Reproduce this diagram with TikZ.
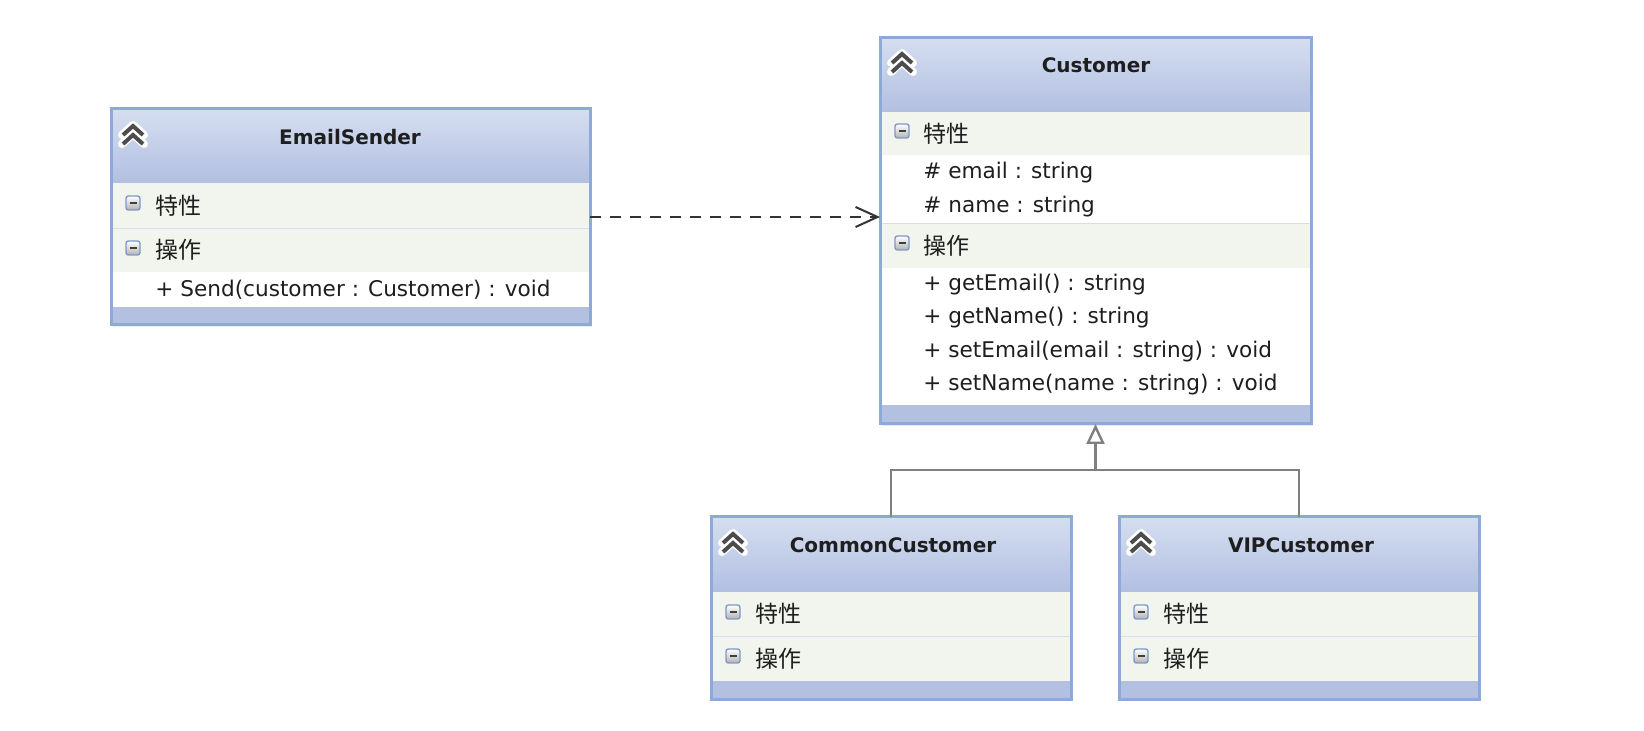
\documentclass[tikz,border=0pt]{standalone}
\usepackage{fontspec}
\setmainfont{DejaVu Sans}
\newfontfamily\cjk{Noto Sans CJK SC}
\usetikzlibrary{arrows.meta}
\definecolor{umlborder}{HTML}{8DA9D6}
\definecolor{headtop}{HTML}{D5DEF0}
\definecolor{headbot}{HTML}{B2BFE1}
\definecolor{rowfill}{HTML}{F2F5EE}
\definecolor{rowline}{HTML}{D6DEF0}
\definecolor{bandfill}{HTML}{B3C0E0}
\definecolor{linkgray}{HTML}{808080}
\definecolor{textdark}{HTML}{1E1E1E}
\definecolor{iconline}{HTML}{7C98C8}

\tikzset{
  classbox/.style={draw=umlborder, line width=1.5pt, anchor=north west, inner sep=0pt, outer sep=0pt},
  classname/.style={font=\fontsize{10}{12}\selectfont\bfseries, text=textdark},
  member/.style={anchor=west, inner sep=0pt, font=\fontsize{10.8}{13}\selectfont, text=textdark},
  section/.style={anchor=west, inner sep=0pt, font=\fontsize{11.5}{13}\selectfont\cjk, text=textdark},
  depend/.style={draw=black!80, line width=1pt, dash pattern=on 5.5pt off 4.5pt,
    -{Straight Barb[length=11pt,width=10pt]}},
  realize/.style={draw=linkgray, line width=1.2pt},
  pics/chevrons/.style={code={
    \foreach \dy in {0,9}{
      \draw[white, line width=4pt, line join=round, line cap=round] (-11,\dy-5) -- (0,\dy-15) -- (11,\dy-5);}
    \foreach \dy in {0,9}{
      \draw[black!70, line width=2pt] (-10,\dy-5) -- (0,\dy-14) -- (10,\dy-5);}
  }},
  pics/collapse/.style={code={
    \draw[draw=iconline, line width=0.7pt, rounded corners=1.2pt, top color=white, bottom color=black!30]
      (-7,-7) rectangle (7,7);
    \draw[black!75, line width=1.1pt] (-3.5,0) -- (3.5,0);
  }},
}

\begin{document}
\begin{tikzpicture}[x=0.5pt,y=-0.5pt]
\fill[white] (0,0) rectangle (1644,731);
\useasboundingbox (0,0) rectangle (1644,731);
%EmailSender
\fill[black!8] (113,111) rectangle (592,327);
\shade[top color=headtop,bottom color=headbot] (111,109) rectangle (590,183);
\fill[rowfill] (111,183) rectangle (590,272);
\fill[white] (111,272) rectangle (590,307);
\fill[bandfill] (111,307) rectangle (590,325);
\draw[rowline] (111,228) -- (590,228);
\node[classbox, minimum width=239.5pt, minimum height=108pt] (sender) at (111,109) {};
\pic at (133,140) {chevrons};
\node[classname] (sender-name) at (350,137) {EmailSender};
\pic at (133,203) {collapse};
\node[section] (sender-attr) at (155,205.5) {特性};
\pic at (133,248) {collapse};
\node[section] (sender-ops) at (155,250) {操作};
\node[member] (sender-op1) at (155,289.5) {+ Send(customer : Customer) : void};
%Customer
\fill[black!8] (882,40) rectangle (1313,426);
\shade[top color=headtop,bottom color=headbot] (880,38) rectangle (1311,112);
\fill[rowfill] (880,112) rectangle (1311,155);
\fill[white] (880,155) rectangle (1311,223);
\fill[rowfill] (880,223) rectangle (1311,268);
\fill[white] (880,268) rectangle (1311,405);
\fill[bandfill] (880,405) rectangle (1311,424);
\draw[rowline] (880,223) -- (1311,223);
\node[classbox, minimum width=215.5pt, minimum height=193pt] (customer) at (880,38) {};
\pic at (902,68) {chevrons};
\node[classname] (customer-name) at (1096,65) {Customer};
\pic at (902,131) {collapse};
\node[section] (customer-attr) at (923,133.5) {特性};
\node[member] (customer-email) at (923,173) {\# email : string};
\node[member] (customer-nm) at (923,207) {\# name : string};
\pic at (902,243) {collapse};
\node[section] (customer-ops) at (923,245.5) {操作};
\node[member] (customer-op1) at (923,285) {+ getEmail() : string};
\node[member] (customer-op2) at (923,318) {+ getName() : string};
\node[member] (customer-op3) at (923,352) {+ setEmail(email : string) : void};
\node[member] (customer-op4) at (923,385) {+ setName(name : string) : void};
%CommonCustomer
\fill[black!8] (713,519) rectangle (1073,701);
\shade[top color=headtop,bottom color=headbot] (711,517) rectangle (1071,592);
\fill[rowfill] (711,592) rectangle (1071,681);
\fill[bandfill] (711,681) rectangle (1071,699);
\draw[rowline] (711,636) -- (1071,636);
\node[classbox, minimum width=180pt, minimum height=91pt] (common) at (711,517) {};
\pic at (733,548) {chevrons};
\node[classname] (common-name) at (893,545) {CommonCustomer};
\pic at (733,612) {collapse};
\node[section] (common-attr) at (755,614) {特性};
\pic at (733,656) {collapse};
\node[section] (common-ops) at (755,658.5) {操作};
%VIPCustomer
\fill[black!8] (1121,519) rectangle (1481,701);
\shade[top color=headtop,bottom color=headbot] (1119,517) rectangle (1479,592);
\fill[rowfill] (1119,592) rectangle (1479,681);
\fill[bandfill] (1119,681) rectangle (1479,699);
\draw[rowline] (1119,636) -- (1479,636);
\node[classbox, minimum width=180pt, minimum height=91pt] (vip) at (1119,517) {};
\pic at (1141,548) {chevrons};
\node[classname] (vip-name) at (1301,545) {VIPCustomer};
\pic at (1141,612) {collapse};
\node[section] (vip-attr) at (1163,614) {特性};
\pic at (1141,656) {collapse};
\node[section] (vip-ops) at (1163,658.5) {操作};
%links
\draw[depend] (sender.east) -- (sender.east -| customer.west);
\coordinate (fork) at (customer.south |- 0,470);
\draw[realize] (common.north) |- (fork) -| (vip.north);
\draw[realize, -{Triangle[open, length=10pt, width=9pt, fill=white]}] (fork) -- (customer.south);
\end{tikzpicture}
\end{document}
